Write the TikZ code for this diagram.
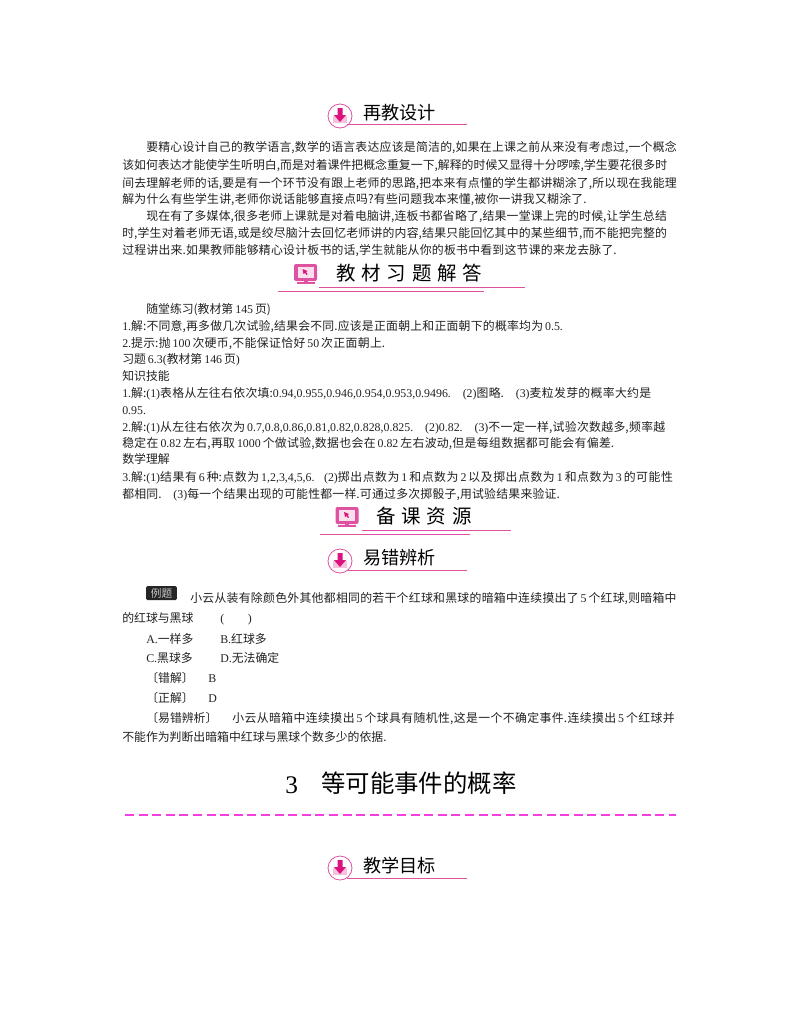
\documentclass[tikz,border=0pt]{standalone}
\usepackage{fontspec}
\setmainfont{Noto Sans CJK SC}
\newfontfamily\latfont{Liberation Serif}
\newfontfamily\widefont[LetterSpace=30]{Noto Sans CJK SC}
\newcommand{\lat}[1]{{\latfont #1}}
\XeTeXlinebreaklocale "zh"
\XeTeXlinebreakskip=0pt plus 3pt minus .1pt
\setlength{\parindent}{0pt}
\definecolor{rosepink}{rgb}{0.87,0.32,0.63}
\definecolor{deeppink}{rgb}{0.86,0.07,0.5}
\definecolor{palepink}{rgb}{0.96,0.76,0.86}
\definecolor{dashpink}{rgb}{0.95,0.25,0.88}
\definecolor{inkgray}{rgb}{0.13,0.13,0.13}
\tikzset{
	body/.style={anchor=base west,inner sep=0pt,text=inkgray,font=\fontsize{8.9pt}{10pt}\selectfont,execute at begin node={\parfillskip=0pt\relax}},
	fitw/.style={text width=#1*0.75pt},
	headtext/.style={anchor=base west,inner sep=0pt,text=black,font=\fontsize{13.6pt}{15pt}\selectfont},
	widetext/.style={anchor=base west,inner sep=0pt,text=black,font=\widefont\fontsize{14.6pt}{16pt}\selectfont},
	rule/.style={color=rosepink,line width=0.75pt},
	downicon/.pic={
		\draw[color=rosepink,fill=white,line width=0.6pt] (0,0) circle (12);
		\fill[color=palepink] (-7,0) -- (7,0) -- (7,7) -- (-7,7) -- cycle;
		\fill[color=deeppink] (-2.5,-8) -- (2.5,-8) -- (2.5,-1) -- (6,-1) -- (0,6) -- (-6,-1) -- (-2.5,-1) -- cycle;
	},
	screenicon/.pic={
		\fill[color=rosepink,rounded corners=1.5pt] (-11.5,-10) rectangle (11.5,7);
		\fill[color=palepink!50!white] (-8,-7) rectangle (8,4);
		\fill[color=deeppink] (-3,-5) -- (2,-3) -- (0.5,-2) -- (2,0) -- (1,1) -- (-0.5,-1) -- (-2,0) -- cycle;
		\fill[color=rosepink] (-2,7) rectangle (2,8);
		\fill[color=rosepink] (-9,8) rectangle (9,10);
	},
}
\begin{document}
\begin{tikzpicture}[x=0.75pt,y=-0.75pt]
		\useasboundingbox (0,0) rectangle (800,1028);
		% heading
		\pic at (340,116) {downicon};
		\draw[rule] (347,124) -- (467,124);
		\node[headtext] (headA) at (363,119) {再教设计};
		% first block
		\node[body,fitw=532] (a1) at (146,151) {要精心设计自己的教学语言,数学的语言表达应该是简洁的,如果在上课之前从来没有考虑过,一个概念};
		\node[body,fitw=545] (a2) at (122,169) {该如何表达才能使学生听明白,而是对着课件把概念重复一下,解释的时候又显得十分啰嗦,学生要花很多时};
		\node[body,fitw=556] (a3) at (122,187) {间去理解老师的话,要是有一个环节没有跟上老师的思路,把本来有点懂的学生都讲糊涂了,所以现在我能理};
		\node[body,fitw=466] (a4) at (122,203) {解为什么有些学生讲,老师你说话能够直接点吗?有些问题我本来懂,被你一讲我又糊涂了.};
		\node[body,fitw=522] (a5) at (146,220) {现在有了多媒体,很多老师上课就是对着电脑讲,连板书都省略了,结果一堂课上完的时候,让学生总结};
		\node[body,fitw=546] (a6) at (122,237) {时,学生对着老师无语,或是绞尽脑汁去回忆老师讲的内容,结果只能回忆其中的某些细节,而不能把完整的};
		\node[body,fitw=496] (a7) at (122,254) {过程讲出来.如果教师能够精心设计板书的话,学生就能从你的板书中看到这节课的来龙去脉了.};
		% second heading
		\pic at (305.5,274) {screenicon};
		\draw[rule] (319,287) -- (525,287);
		\draw[rule] (278,291) -- (484,291);
		\node[widetext] (headB) at (336,280) {教材习题解答};
		% answers
		\node[body] (b1) at (146,313) {随堂练习(教材第\,\lat{145}\,页)};
		\node[body,fitw=442] (b2) at (122,330) {\lat{1.}解:不同意,再多做几次试验,结果会不同.应该是正面朝上和正面朝下的概率均为\,\lat{0.5.}};
		\node[body,fitw=265] (b3) at (122,347) {\lat{2.}提示:抛\,\lat{100}\,次硬币,不能保证恰好\,\lat{50}\,次正面朝上.};
		\node[body] (b4) at (122,363) {习题\,\lat{6.3(}教材第\,\lat{146}\,页\lat{)}};
		\node[body] (b5) at (122,380) {知识技能};
		\node[body,fitw=531] (b6) at (122,397) {\lat{1.}解:\lat{(1)}表格从左往右依次填:\lat{0.94,0.955,0.946,0.954,0.953,0.9496.}\hspace{1em}\lat{(2)}图略.\hspace{1em}\lat{(3)}麦粒发芽的概率大约是};
		\node[body] (b7) at (122,414) {\lat{0.95.}};
		\node[body,fitw=545] (b8) at (122,431) {\lat{2.}解:\lat{(1)}从左往右依次为\,\lat{0.7,0.8,0.86,0.81,0.82,0.828,0.825.}\hspace{1em}\lat{(2)0.82.}\hspace{1em}\lat{(3)}不一定一样,试验次数越多,频率越};
		\node[body,fitw=494] (b9) at (122,447) {稳定在\,\lat{0.82}\,左右,再取\,\lat{1000}\,个做试验,数据也会在\,\lat{0.82}\,左右波动,但是每组数据都可能会有偏差.};
		\node[body] (b10) at (122,463) {数学理解};
		\node[body,fitw=554] (b11) at (122,481) {\lat{3.}解:\lat{(1)}结果有\,\lat{6}\,种:点数为\,\lat{1,2,3,4,5,6.}\hspace{.8em}\lat{(2)}掷出点数为\,\lat{1}\,和点数为\,\lat{2}\,以及掷出点数为\,\lat{1}\,和点数为\,\lat{3}\,的可能性};
		\node[body,fitw=439] (b12) at (122,498) {都相同.\hspace{1em}\lat{(3)}每一个结果出现的可能性都一样.可通过多次掷骰子,用试验结果来验证.};
		% third heading
		\pic at (347,517) {screenicon};
		\draw[rule] (362,530) -- (511,530);
		\draw[rule] (320,534) -- (470,534);
		\node[widetext] (headC) at (376,523) {备课资源};
		\pic at (340,561) {downicon};
		\draw[rule] (347,570) -- (467,570);
		\node[headtext] (headD) at (363,564) {易错辨析};
		% example
		\node[anchor=center,fill=black!85,rounded corners=1pt,text=black!20,inner sep=0pt,minimum width=23pt,minimum height=10.5pt,font=\fontsize{8pt}{9pt}\selectfont] (tagE) at (161.5,593) {例题};
		\node[body,fitw=488] (c1) at (190,602) {小云从装有除颜色外其他都相同的若干个红球和黑球的暗箱中连续摸出了\,\lat{5}\,个红球,则暗箱中};
		\node[body] (c2) at (122,622) {的红球与黑球};
		\node[body] (c3) at (220,622) {\lat{(\hspace{2em})}};
		\node[body] (c4) at (146,643) {\lat{A.}一样多};
		\node[body] (c5) at (220,643) {\lat{B.}红球多};
		\node[body] (c6) at (146,662) {\lat{C.}黑球多};
		\node[body] (c7) at (220,662) {\lat{D.}无法确定};
		\node[body] (c8) at (146,682) {〔错解〕};
		\node[body] (c9) at (208,682) {\lat{B}};
		\node[body] (c10) at (146,702) {〔正解〕};
		\node[body] (c11) at (208,702) {\lat{D}};
		\node[body] (c12) at (146,722) {〔易错辨析〕};
		\node[body,fitw=445] (c13) at (232,722) {小云从暗箱中连续摸出\,\lat{5}\,个球具有随机性,这是一个不确定事件.连续摸出\,\lat{5}\,个红球并};
		\node[body] (c14) at (122,741) {不能作为判断出暗箱中红球与黑球个数多少的依据.};
		% chapter title
		\node[anchor=base west,inner sep=0pt,text=black,font=\latfont\fontsize{19pt}{21pt}\selectfont] (chapnum) at (285,793) {3};
		\node[anchor=base west,inner sep=0pt,text=black,font=\fontsize{18.3pt}{20pt}\selectfont] (chaptext) at (321,792) {等可能事件的概率};
		\draw[color=dashpink,line width=0.8pt,dash pattern=on 6.8pt off 3.4pt] (125,815) -- (676,815);
		% last heading
		\pic at (340,868) {downicon};
		\draw[rule] (347,878) -- (467,878);
		\node[headtext] (headE) at (363,872) {教学目标};
		\end{tikzpicture}
\end{document}
